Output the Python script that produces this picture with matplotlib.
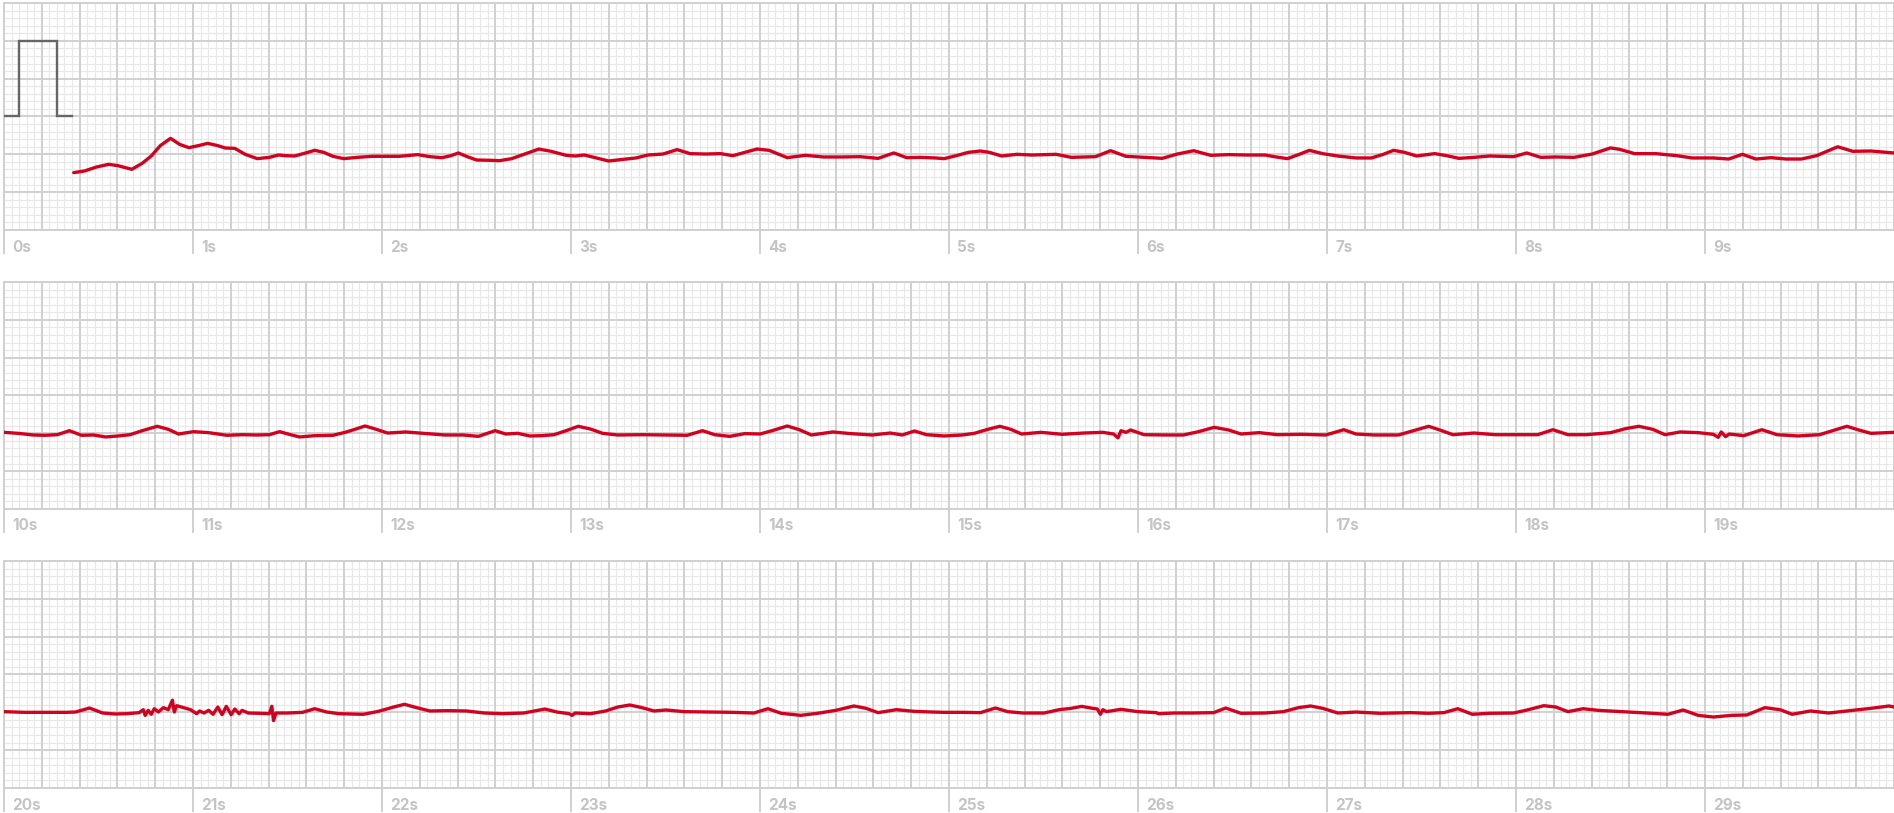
import numpy as np
import matplotlib
matplotlib.use("Agg")
import matplotlib.pyplot as plt
from matplotlib.transforms import blended_transform_factory

# ---------------- data (seconds within strip, millivolts) ----------------
strip_starts = [0, 10, 20]
strip_seconds = 10

cal_t = [0.0, 0.08, 0.08, 0.28, 0.28, 0.36]
cal_v = [0.5, 0.5, 1.5, 1.5, 0.5, 0.5]

s1_t = [0.369, 0.426, 0.490, 0.554, 0.603, 0.676, 0.731, 0.779, 0.827, 0.881, 0.929, 0.978,
        1.029, 1.077, 1.131, 1.170, 1.221, 1.276, 1.340, 1.404, 1.452, 1.490, 1.538, 1.596,
        1.644, 1.692, 1.740, 1.798, 1.869, 1.949, 2.029, 2.093, 2.189, 2.253, 2.317, 2.365,
        2.404, 2.446, 2.500, 2.574, 2.622, 2.686, 2.750, 2.830, 2.894, 2.974, 3.022, 3.071,
        3.135, 3.199, 3.279, 3.343, 3.407, 3.487, 3.561, 3.631, 3.712, 3.792, 3.856, 3.920,
        3.984, 4.048, 4.144, 4.240, 4.337, 4.433, 4.529, 4.625, 4.708, 4.776, 4.849, 4.929,
        4.974, 5.038, 5.102, 5.166, 5.214, 5.278, 5.359, 5.439, 5.503, 5.567, 5.647, 5.711,
        5.775, 5.855, 5.936, 6.032, 6.128, 6.208, 6.295, 6.384, 6.480, 6.577, 6.673, 6.721,
        6.791, 6.849, 6.907, 6.977, 7.057, 7.153, 7.234, 7.298, 7.352, 7.410, 7.474, 7.570,
        7.634, 7.698, 7.778, 7.859, 7.987, 8.057, 8.131, 8.211, 8.307, 8.403, 8.500, 8.548,
        8.628, 8.740, 8.852, 8.932, 9.044, 9.125, 9.198, 9.269, 9.349, 9.429, 9.510, 9.590,
        9.702, 9.782, 9.878, 10.0]
s1_v = [-0.242, -0.220, -0.167, -0.132, -0.150, -0.198, -0.119, -0.022, 0.115, 0.211, 0.132, 0.088,
        0.115, 0.145, 0.115, 0.084, 0.079, 0.0, -0.057, -0.040, -0.009, -0.018, -0.022, 0.018,
        0.053, 0.026, -0.026, -0.057, -0.040, -0.026, -0.026, -0.026, -0.004, -0.031, -0.044, -0.018,
        0.018, -0.026, -0.075, -0.079, -0.084, -0.057, 0.0, 0.070, 0.040, -0.013, -0.022, -0.009,
        -0.048, -0.088, -0.066, -0.048, -0.009, 0.004, 0.062, 0.009, 0.004, 0.009, -0.018, 0.026,
        0.070, 0.053, -0.044, -0.013, -0.035, -0.035, -0.031, -0.053, 0.018, -0.044, -0.040, -0.048,
        -0.057, -0.018, 0.026, 0.044, 0.026, -0.022, 0.0, -0.009, -0.004, 0.0, -0.040, -0.035,
        -0.031, 0.048, -0.026, -0.040, -0.053, 0.004, 0.048, -0.013, -0.004, -0.009, -0.009, -0.031,
        -0.057, -0.004, 0.053, 0.009, -0.022, -0.048, -0.048, 0.0, 0.053, 0.026, -0.022, 0.009,
        -0.018, -0.053, -0.040, -0.022, -0.031, 0.018, -0.040, -0.035, -0.040, 0.004, 0.085, 0.066,
        0.009, 0.009, -0.018, -0.048, -0.048, -0.062, 0.0, -0.062, -0.044, -0.062, -0.062, -0.018,
        0.100, 0.040, 0.044, 0.018]

s2_t = [0.0, 0.074, 0.154, 0.218, 0.282, 0.346, 0.410, 0.474, 0.538, 0.603, 0.667, 0.731,
        0.811, 0.869, 0.923, 1.003, 1.083, 1.179, 1.260, 1.340, 1.404, 1.458, 1.516, 1.564,
        1.644, 1.740, 1.804, 1.862, 1.910, 1.965, 2.029, 2.125, 2.221, 2.333, 2.429, 2.510,
        2.599, 2.654, 2.718, 2.782, 2.846, 2.910, 2.974, 3.038, 3.103, 3.167, 3.247, 3.375,
        3.503, 3.615, 3.696, 3.760, 3.840, 3.920, 4.000, 4.064, 4.144, 4.208, 4.272, 4.385,
        4.481, 4.593, 4.689, 4.753, 4.817, 4.881, 4.974, 5.070, 5.134, 5.198, 5.269, 5.327,
        5.384, 5.487, 5.599, 5.711, 5.814, 5.871, 5.894, 5.910, 5.936, 5.961, 6.032, 6.144,
        6.240, 6.320, 6.403, 6.480, 6.545, 6.641, 6.737, 6.865, 6.993, 7.089, 7.153, 7.250,
        7.378, 7.458, 7.538, 7.602, 7.666, 7.778, 7.891, 8.003, 8.115, 8.195, 8.275, 8.372,
        8.500, 8.580, 8.650, 8.724, 8.788, 8.868, 8.964, 9.044, 9.070, 9.086, 9.109, 9.128,
        9.205, 9.301, 9.381, 9.493, 9.606, 9.686, 9.750, 9.814, 9.878, 10.0]
s2_v = [0.013, 0.0, -0.022, -0.026, -0.018, 0.035, -0.026, -0.022, -0.048, -0.035, -0.018, 0.035,
        0.093, 0.053, -0.009, 0.022, 0.009, -0.026, -0.018, -0.022, -0.018, 0.022, -0.018, -0.048,
        -0.031, -0.026, 0.013, 0.057, 0.097, 0.057, 0.004, 0.018, 0.0, -0.022, -0.022, -0.040,
        0.035, -0.009, 0.0, -0.035, -0.031, -0.018, 0.035, 0.093, 0.057, 0.0, -0.022, -0.018,
        -0.022, -0.026, 0.035, -0.018, -0.040, -0.004, -0.009, 0.035, 0.097, 0.048, -0.022, 0.018,
        -0.004, -0.022, 0.004, -0.022, 0.031, -0.018, -0.035, -0.022, 0.0, 0.048, 0.093, 0.053,
        -0.009, 0.013, -0.013, 0.004, 0.013, -0.009, -0.060, 0.035, 0.013, 0.044, -0.018, -0.022,
        -0.022, 0.022, 0.079, 0.044, -0.009, 0.009, -0.018, -0.013, -0.022, 0.048, -0.009, -0.022,
        -0.022, 0.035, 0.093, 0.040, -0.018, 0.004, -0.018, -0.018, -0.018, 0.048, -0.018, -0.018,
        0.009, 0.062, 0.093, 0.053, -0.018, 0.018, 0.009, -0.013, -0.053, 0.018, -0.044, -0.009,
        -0.031, 0.048, -0.018, -0.035, -0.018, 0.044, 0.093, 0.044, 0.0, 0.013]

s3_t = [0.0, 0.106, 0.234, 0.330, 0.378, 0.452, 0.522, 0.587, 0.651, 0.715, 0.737, 0.747,
        0.763, 0.779, 0.795, 0.817, 0.843, 0.869, 0.891, 0.901, 0.913, 0.939, 0.987, 1.019,
        1.035, 1.058, 1.083, 1.106, 1.131, 1.154, 1.176, 1.202, 1.221, 1.244, 1.260, 1.292,
        1.356, 1.404, 1.417, 1.426, 1.439, 1.500, 1.580, 1.644, 1.708, 1.772, 1.901, 1.981,
        2.061, 2.119, 2.183, 2.253, 2.349, 2.446, 2.542, 2.638, 2.750, 2.862, 2.926, 2.990,
        3.006, 3.022, 3.103, 3.183, 3.247, 3.311, 3.375, 3.439, 3.503, 3.599, 3.728, 3.856,
        3.968, 4.042, 4.112, 4.215, 4.304, 4.401, 4.497, 4.561, 4.625, 4.721, 4.817, 4.913,
        4.974, 5.070, 5.166, 5.246, 5.311, 5.391, 5.503, 5.583, 5.647, 5.702, 5.759, 5.785,
        5.801, 5.814, 5.833, 5.910, 6.000, 6.096, 6.109, 6.192, 6.288, 6.400, 6.464, 6.545,
        6.673, 6.769, 6.849, 6.913, 6.977, 7.057, 7.153, 7.282, 7.442, 7.538, 7.618, 7.692,
        7.769, 7.859, 7.987, 8.051, 8.147, 8.211, 8.275, 8.355, 8.436, 8.564, 8.692, 8.804,
        8.884, 8.964, 9.044, 9.141, 9.221, 9.317, 9.397, 9.461, 9.558, 9.654, 9.750, 9.878,
        9.974, 10.0]
s3_v = [0.009, 0.0, 0.0, 0.0, 0.004, 0.057, -0.009, -0.022, -0.018, -0.004, 0.035, -0.040,
        0.026, -0.026, 0.048, 0.004, 0.062, 0.035, 0.160, 0.004, 0.088, 0.070, 0.035, -0.018,
        0.018, -0.009, 0.026, -0.026, 0.070, -0.031, 0.079, -0.031, 0.044, -0.018, 0.026, -0.009,
        -0.013, -0.018, 0.080, -0.110, -0.009, -0.009, 0.0, 0.048, 0.004, -0.018, -0.026, 0.013,
        0.070, 0.106, 0.062, 0.018, 0.022, 0.018, -0.009, -0.018, -0.009, 0.044, 0.004, -0.018,
        -0.040, -0.009, -0.018, 0.018, 0.070, 0.097, 0.062, 0.018, 0.031, 0.009, 0.004, 0.0,
        -0.009, 0.048, -0.013, -0.040, -0.013, 0.026, 0.084, 0.053, -0.004, 0.035, 0.013, 0.004,
        0.0, 0.0, -0.004, 0.057, 0.009, -0.009, -0.009, 0.035, 0.053, 0.079, 0.053, 0.044,
        -0.026, 0.035, 0.009, 0.040, 0.009, -0.004, -0.018, -0.009, -0.009, -0.004, 0.057, -0.013,
        -0.009, 0.009, 0.062, 0.084, 0.053, -0.009, 0.004, -0.013, -0.004, -0.013, -0.004, 0.048,
        -0.026, -0.013, -0.009, 0.026, 0.088, 0.070, 0.009, 0.048, 0.026, 0.009, -0.009, -0.026,
        0.031, -0.040, -0.062, -0.040, -0.035, 0.062, 0.035, -0.026, 0.018, -0.009, 0.018, 0.053,
        0.084, 0.070]

strips_t = [s1_t, s2_t, s3_t]
strips_v = [s1_v, s2_v, s3_v]

# ---------------- styling ----------------
W, H = 1894, 813
DPI = 100
fig = plt.figure(figsize=(W / DPI, H / DPI), dpi=DPI)
fig.patch.set_facecolor("white")

left_px, right_px = 4, 1894
strip_h_px = 227
strip_tops_px = [3, 282, 561]
ymin, ymax = -1.0, 2.0

minor_c = "#e8e8e8"
major_c = "#d0d0d0"
trace_c = "#d1021f"
label_c = "#c4c4c4"

for k in range(3):
    top = strip_tops_px[k]
    ax = fig.add_axes([left_px / W, 1 - (top + strip_h_px) / H,
                       (right_px - left_px) / W, strip_h_px / H])
    ax.set_xlim(0, strip_seconds)
    ax.set_ylim(ymin, ymax)
    ax.set_xticks([])
    ax.set_yticks([])
    for sp in ax.spines.values():
        sp.set_color(major_c)
        sp.set_linewidth(1.4)

    # grid: minor every 0.04 s / 0.1 mV, major every 0.2 s / 0.5 mV
    for i in range(0, 251):
        x = i * 0.04
        if i % 5 == 0:
            ax.axvline(x, color=major_c, lw=1.4, zorder=2)
        else:
            ax.axvline(x, color=minor_c, lw=0.9, zorder=1)
    for j in range(0, 31):
        y = ymin + j * 0.1
        if j % 5 == 0:
            ax.axhline(y, color=major_c, lw=1.4, zorder=2)
        else:
            ax.axhline(y, color=minor_c, lw=0.9, zorder=1)

    if k == 0:
        ax.plot(cal_t, cal_v, color="#666666", lw=1.7, zorder=4,
                solid_joinstyle="miter")

    ax.plot(strips_t[k], strips_v[k], color=trace_c, lw=2.4, zorder=5,
            solid_joinstyle="round", solid_capstyle="round")

    # second ticks and labels below the strip
    trans = blended_transform_factory(ax.transData, ax.transAxes)
    for s in range(strip_seconds):
        ax.plot([s, s], [0, -23 / strip_h_px], transform=trans, color=major_c,
                lw=1.4, clip_on=False, zorder=3)
        ax.text(s + 8 / 189, -17 / strip_h_px, f"{strip_starts[k] + s}s",
                transform=trans, ha="left", va="center", color=label_c,
                fontsize=11, fontweight="bold", family=["Inter", "DejaVu Sans"])

fig.savefig("out.png", dpi=DPI, facecolor="white")
